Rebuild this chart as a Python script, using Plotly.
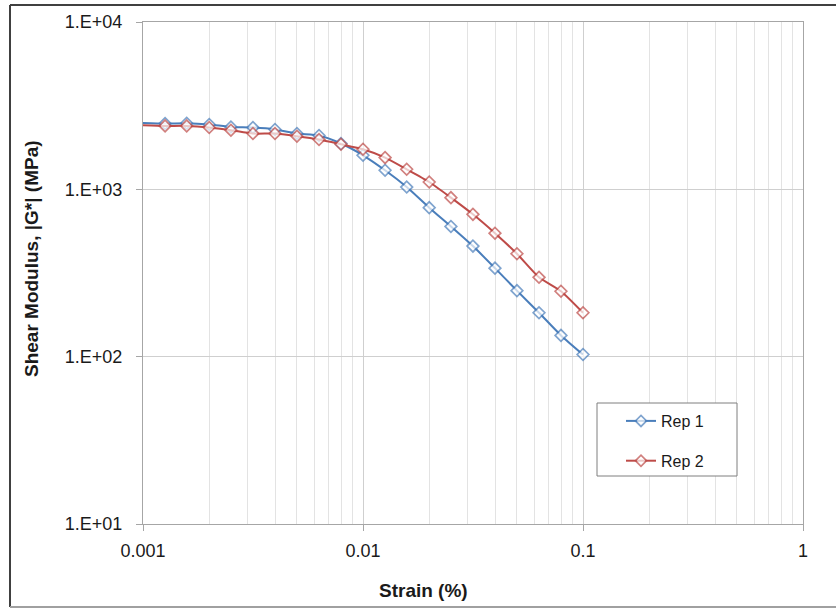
import plotly.graph_objects as go

strain = [0.001, 0.00126, 0.00158, 0.002, 0.00251, 0.00316, 0.00398, 0.00501, 0.00631,
          0.00794, 0.01, 0.0126, 0.0158, 0.02, 0.0251, 0.0316, 0.0398, 0.0501, 0.0631,
          0.0794, 0.1]
rep1 = [2495, 2473, 2483, 2440, 2360, 2340, 2278, 2155, 2097,
        1878, 1598, 1300, 1032, 777, 600, 458, 338, 248, 183, 134, 103]
rep2 = [2417, 2393, 2393, 2342, 2256, 2155, 2155, 2077, 1984,
        1859, 1736, 1548, 1318, 1106, 892, 709, 547, 412, 298, 246, 183]
series_names = ["Rep 1", "Rep 2"]
y_tickvals = [10, 100, 1000, 10000]
y_ticktext = ["1.E+01", "1.E+02", "1.E+03", "1.E+04"]
x_tickvals = [0.001, 0.01, 0.1, 1]
x_ticktext = ["0.001", "0.01", "0.1", "1"]
x_minor = [m * d for d in (0.001, 0.01, 0.1) for m in range(2, 10)]

colors = ["#4A7EBB", "#BE4B48"]
FONT = "Liberation Sans, Arial, sans-serif"

# plot area in pixels
W, H = 836, 609
L, R, T, B = 143, 803, 22, 524
pw, ph = R - L, B - T
def px(x):
    return (x - L) / pw
def py(y):
    return (B - y) / ph

fig = go.Figure()
for name, vals, c in zip(series_names, [rep1, rep2], colors):
    sizes = [0] + [9] * (len(vals) - 1)
    fig.add_trace(go.Scatter(
        x=strain, y=vals, name=name, mode="lines+markers",
        line=dict(color=c, width=2, shape="spline", smoothing=0.6),
        marker=dict(symbol="diamond", size=sizes, color="white",
                    line=dict(color=c, width=1.7)),
        legendgroup=name,
    ))

axis_common = dict(
    showline=True, linecolor="#a6a6a6", linewidth=1, mirror=True,
    ticks="outside", ticklen=6, tickcolor="#a6a6a6",
    tickfont=dict(family=FONT, size=18, color="#1a1a1a"),
    showgrid=True, gridcolor="#cfcfcf", gridwidth=1, zeroline=False,
)

fig.update_xaxes(type="log", range=[-3, 0], tickvals=x_tickvals, ticktext=x_ticktext,
                 minor=dict(tickvals=x_minor, showgrid=True, gridcolor="#e3e3e3",
                            gridwidth=1, ticks=""),
                 ticklabelstandoff=4, **axis_common)
fig.update_yaxes(type="log", range=[1, 4], tickvals=y_tickvals, ticktext=y_ticktext,
                 ticklabelstandoff=10, **axis_common)

fig.add_annotation(text="<b>Shear Modulus, |G*| (MPa)</b>", textangle=-90,
                   xref="paper", yref="paper", x=px(31), y=py(259),
                   xanchor="center", yanchor="middle",
                   showarrow=False, font=dict(family=FONT, size=19, color="#1a1a1a"))
fig.add_annotation(text="<b>Strain (%)</b>",
                   xref="paper", yref="paper", x=px(423), y=py(591),
                   xanchor="center", yanchor="middle",
                   showarrow=False, font=dict(family=FONT, size=19, color="#1a1a1a"))

# outer chart border
fig.add_shape(type="line", xref="paper", yref="paper", x0=px(10), x1=px(836),
              y0=py(5), y1=py(5), line=dict(color="#404040", width=2))
fig.add_shape(type="line", xref="paper", yref="paper", x0=px(10), x1=px(10),
              y0=py(5), y1=py(607), line=dict(color="#404040", width=2))
fig.add_shape(type="line", xref="paper", yref="paper", x0=px(10), x1=px(836),
              y0=py(607), y1=py(607), line=dict(color="#a0a0a0", width=2))

# legend frame
fig.add_shape(type="rect", xref="paper", yref="paper", x0=px(597), x1=px(737),
              y0=py(403), y1=py(476), line=dict(color="#7f7f7f", width=1),
              fillcolor="white", layer="above")

fig.update_layout(
    width=W, height=H,
    margin=dict(l=L, r=W - R, t=T, b=H - B),
    paper_bgcolor="white", plot_bgcolor="white",
    showlegend=True,
    legend=dict(x=px(621), y=py(404), xanchor="left", yanchor="top",
                bgcolor="rgba(0,0,0,0)", borderwidth=0,
                font=dict(family=FONT, size=16, color="#1a1a1a"),
                tracegroupgap=16, itemwidth=30),
    font=dict(family=FONT),
)

fig.write_html("out.html", config={"displayModeBar": False},
               post_script="document.body.style.margin='0';")
